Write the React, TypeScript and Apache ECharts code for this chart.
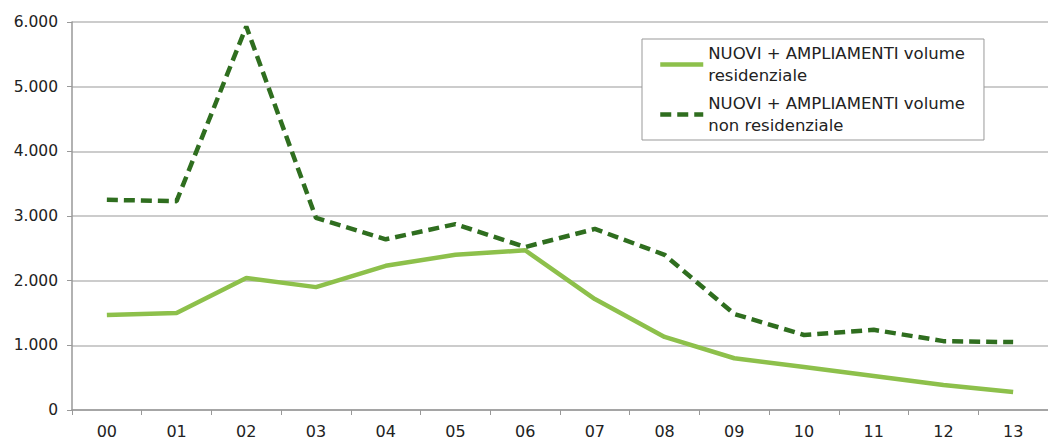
import React, { useEffect, useRef } from "react";
import * as echarts from "echarts";

const categories = ["00", "01", "02", "03", "04", "05", "06", "07", "08", "09", "10", "11", "12", "13"];
const residenziale = [1470, 1500, 2040, 1900, 2230, 2400, 2470, 1715, 1130, 800, 665, 525, 385, 280];
const nonResidenziale = [3250, 3230, 5930, 2970, 2640, 2875, 2520, 2800, 2400, 1485, 1160, 1240, 1065, 1050];
const seriesNames = [
  "NUOVI + AMPLIAMENTI volume\nresidenziale",
  "NUOVI + AMPLIAMENTI volume\nnon residenziale",
];
const yTicks = [0, 1000, 2000, 3000, 4000, 5000, 6000];

const fmt = (v: number) => (v === 0 ? "0" : v.toLocaleString("de-DE"));

export default function App() {
  const ref = useRef<HTMLDivElement>(null);
  useEffect(() => {
    if (!ref.current) return;
    const chart = echarts.init(ref.current, undefined, { renderer: "svg" });
    const font = "DejaVu Sans, Verdana, sans-serif";
    chart.setOption({
      animation: false,
      textStyle: { fontFamily: font },
      grid: { left: 72, top: 22, width: 986, height: 388 },
      legend: {
        orient: "vertical",
        left: 642,
        top: 39,
        padding: [4, 19, 4, 16],
        itemWidth: 43,
        itemHeight: 14,
        itemGap: 7,
        backgroundColor: "#fff",
        borderColor: "#999",
        borderWidth: 1,
        itemStyle: { opacity: 0 },
        lineStyle: { width: 4.5 },
        textStyle: { fontFamily: font, fontSize: 16.5, color: "#222", lineHeight: 21.5 },
        data: [seriesNames[0], seriesNames[1]],
      },
      xAxis: {
        type: "category",
        data: categories,
        boundaryGap: true,
        axisLine: { lineStyle: { color: "#999", width: 1.5 } },
        axisTick: { show: true, length: 5, lineStyle: { color: "#999" } },
        axisLabel: { fontFamily: font, fontSize: 16, color: "#222", margin: 13 },
      },
      yAxis: {
        type: "value",
        min: yTicks[0],
        max: yTicks[yTicks.length - 1],
        interval: 1000,
        axisLine: { show: true, lineStyle: { color: "#999", width: 1.5 } },
        axisTick: { show: true, length: 5, lineStyle: { color: "#999" } },
        splitLine: { lineStyle: { color: "#bbb", width: 1.5 } },
        axisLabel: {
          fontFamily: font,
          fontSize: 15.5,
          color: "#222",
          margin: 14,
          formatter: (v: number) => fmt(v),
        },
      },
      series: [
        {
          name: seriesNames[0],
          type: "line",
          data: residenziale,
          symbol: "none",
          lineStyle: { color: "#8dc04b", width: 4.5 },
          itemStyle: { color: "#8dc04b" },
          z: 3,
        },
        {
          name: seriesNames[1],
          type: "line",
          data: nonResidenziale,
          symbol: "none",
          lineStyle: { color: "#2f6e1f", width: 4.5, type: [11, 6] },
          itemStyle: { color: "#2f6e1f" },
          z: 4,
        },
      ],
    });
    return () => chart.dispose();
  }, []);
  return (
    <div
      ref={ref}
      style={{ position: "fixed", left: 0, top: 0, width: 1048, height: 441, background: "#fff" }}
    />
  );
}
